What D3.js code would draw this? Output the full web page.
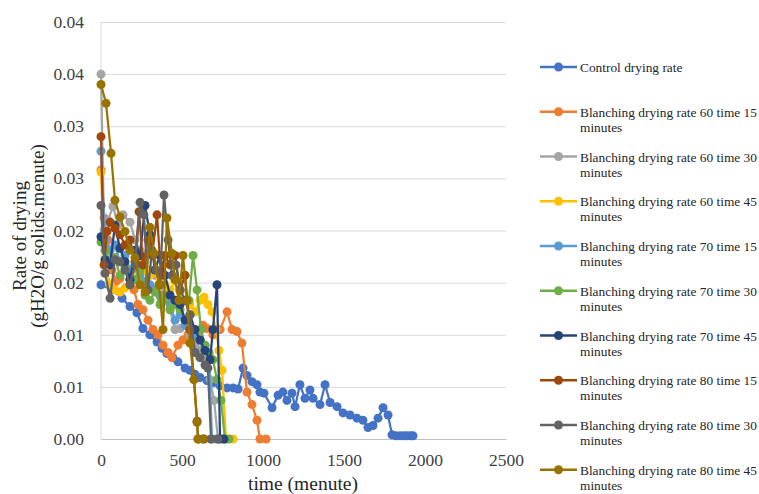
<!DOCTYPE html>
<html>
<head>
<meta charset="utf-8">
<script src="https://cdn.jsdelivr.net/npm/d3@7"></script>
<style>
  body { margin: 0; background: #fff; }
  svg text { font-family: "Liberation Serif", "Times New Roman", Tinos, "DejaVu Serif", serif; }
</style>
</head>
<body>
<div id="chart"></div>
<script>
// drying rate data (time in minutes, rate in gH2O/g solids.minute)
var ctrlTime = [0, 68, 130, 179, 222, 259, 302, 346, 377, 407, 444, 475, 519, 549, 580, 611, 654, 691, 735, 778, 815, 846, 877, 901, 932, 963, 981, 1006, 1056, 1093, 1123, 1148, 1179, 1198, 1228, 1259, 1290, 1309, 1352, 1383, 1414, 1457, 1494, 1537, 1580, 1617, 1648, 1679, 1710, 1741, 1772, 1796, 1820, 1846, 1870, 1889, 1910, 1926];
var ctrlRate = [0.0148, 0.0143, 0.0135, 0.0127, 0.0121, 0.0106, 0.0100, 0.0093, 0.0087, 0.0082, 0.0078, 0.0074, 0.0068, 0.0066, 0.0062, 0.0059, 0.0056, 0.0054, 0.0051, 0.0049, 0.0049, 0.0048, 0.0068, 0.0061, 0.0055, 0.0052, 0.0045, 0.0044, 0.0030, 0.0042, 0.0045, 0.0037, 0.0044, 0.0031, 0.0052, 0.0039, 0.0047, 0.0039, 0.0033, 0.0052, 0.0035, 0.0031, 0.0025, 0.0023, 0.0020, 0.0018, 0.0011, 0.0013, 0.0020, 0.0030, 0.0023, 0.0004, 0.0003, 0.0003, 0.0003, 0.0003, 0.0003, 0.0003];

var b60t15Time = [0, 19, 43, 68, 93, 117, 148, 179, 204, 228, 259, 290, 321, 352, 383, 414, 438, 475, 506, 537, 568, 599, 630, 654, 691, 735, 778, 809, 840, 870, 901, 932, 963, 981, 1019];
var b60t15Rate = [0.0258, 0.0212, 0.0191, 0.0162, 0.0151, 0.0154, 0.0167, 0.0153, 0.0143, 0.0129, 0.0124, 0.0114, 0.0105, 0.0100, 0.0090, 0.0083, 0.0078, 0.0090, 0.0095, 0.0100, 0.0095, 0.0103, 0.0109, 0.0106, 0.0100, 0.0105, 0.0122, 0.0105, 0.0103, 0.0092, 0.0045, 0.0033, 0.0018, 0, 0];

var b60t30Time = [0, 19, 43, 74, 105, 136, 179, 210, 241, 272, 302, 333, 364, 395, 426, 457, 488, 519, 549, 580, 611, 642, 673, 698, 722, 759];
var b60t30Rate = [0.0350, 0.0200, 0.0210, 0.0223, 0.0205, 0.0215, 0.0208, 0.0191, 0.0181, 0.0170, 0.0162, 0.0157, 0.0148, 0.0138, 0.0124, 0.0105, 0.0106, 0.0109, 0.0100, 0.0090, 0.0085, 0.0078, 0.0057, 0.0037, 0, 0];

var b60t45Time = [0, 25, 56, 86, 117, 148, 179, 210, 241, 272, 302, 333, 364, 395, 426, 457, 488, 519, 549, 580, 611, 636, 660, 685, 710, 728, 747, 772, 815];
var b60t45Rate = [0.0256, 0.0170, 0.0148, 0.0143, 0.0141, 0.0145, 0.0153, 0.0162, 0.0170, 0.0162, 0.0157, 0.0160, 0.0153, 0.0148, 0.0143, 0.0151, 0.0141, 0.0133, 0.0129, 0.0122, 0.0133, 0.0136, 0.0129, 0.0122, 0.0105, 0.0085, 0.0066, 0, 0];

var b70t15Time = [0, 25, 56, 86, 117, 148, 179, 210, 241, 272, 302, 333, 364, 395, 426, 457, 488, 519, 549, 580, 611, 642, 667, 685, 710];
var b70t15Rate = [0.0276, 0.0191, 0.0181, 0.0186, 0.0170, 0.0176, 0.0162, 0.0164, 0.0157, 0.0151, 0.0148, 0.0143, 0.0138, 0.0133, 0.0129, 0.0114, 0.0119, 0.0109, 0.0105, 0.0100, 0.0095, 0.0090, 0.0083, 0, 0];

var b70t30Time = [0, 25, 56, 86, 117, 148, 179, 210, 241, 272, 302, 333, 364, 395, 426, 457, 488, 519, 543, 568, 593, 617, 642, 667, 691, 716, 741, 765, 790];
var b70t30Rate = [0.0189, 0.0181, 0.0170, 0.0174, 0.0157, 0.0164, 0.0148, 0.0153, 0.0162, 0.0138, 0.0133, 0.0141, 0.0129, 0.0138, 0.0124, 0.0129, 0.0124, 0.0133, 0.0133, 0.0176, 0.0143, 0.0105, 0.0090, 0.0081, 0.0076, 0.0057, 0.0037, 0, 0];

var b70t45Time = [0, 25, 56, 86, 117, 148, 179, 210, 241, 272, 302, 333, 364, 395, 426, 457, 488, 519, 549, 580, 611, 642, 673, 691, 716, 735, 759];
var b70t45Rate = [0.0194, 0.0172, 0.0167, 0.0205, 0.0183, 0.0170, 0.0153, 0.0181, 0.0176, 0.0224, 0.0196, 0.0162, 0.0176, 0.0157, 0.0138, 0.0133, 0.0129, 0.0114, 0.0119, 0.0105, 0.0095, 0.0085, 0.0076, 0.0105, 0.0148, 0, 0];

var b80t15Time = [0, 19, 37, 56, 86, 117, 148, 179, 210, 235, 259, 290, 315, 346, 370, 395, 426, 457, 488, 519, 549, 574, 593, 599, 636];
var b80t15Rate = [0.0290, 0.0167, 0.0199, 0.0208, 0.0202, 0.0196, 0.0186, 0.0191, 0.0170, 0.0218, 0.0167, 0.0191, 0.0176, 0.0215, 0.0157, 0.0176, 0.0167, 0.0176, 0.0143, 0.0157, 0.0105, 0.0057, 0.0017, 0, 0];

var b80t30Time = [0, 25, 56, 86, 117, 148, 179, 210, 241, 265, 290, 315, 340, 364, 389, 414, 438, 463, 488, 519, 549, 580, 611, 642, 660, 679, 722];
var b80t30Rate = [0.0224, 0.0159, 0.0135, 0.0172, 0.0170, 0.0162, 0.0148, 0.0167, 0.0227, 0.0215, 0.0143, 0.0181, 0.0162, 0.0148, 0.0234, 0.0191, 0.0157, 0.0167, 0.0143, 0.0133, 0.0119, 0.0083, 0.0078, 0.0071, 0.0068, 0, 0];

var b80t45Time = [0, 31, 62, 86, 117, 148, 179, 210, 241, 272, 302, 327, 358, 383, 407, 438, 457, 481, 506, 531, 549, 574, 593, 599, 630];
var b80t45Rate = [0.0340, 0.0322, 0.0274, 0.0229, 0.0213, 0.0199, 0.0181, 0.0174, 0.0148, 0.0141, 0.0203, 0.0178, 0.0148, 0.0105, 0.0212, 0.0178, 0.0153, 0.0133, 0.0176, 0.0133, 0.0092, 0.0057, 0.0016, 0, 0];

var seriesNames = [
    "Control drying rate",
    "Blanching drying rate 60 time 15 minutes",
    "Blanching drying rate 60 time 30 minutes",
    "Blanching drying rate 60 time 45 minutes",
    "Blanching drying rate 70 time 15 minutes",
    "Blanching drying rate 70 time 30 minutes",
    "Blanching drying rate 70 time 45 minutes",
    "Blanching drying rate 80 time 15 minutes",
    "Blanching drying rate 80 time 30 minutes",
    "Blanching drying rate 80 time 45 minutes"
];
var seriesTimes = [ctrlTime, b60t15Time, b60t30Time, b60t45Time, b70t15Time, b70t30Time, b70t45Time, b80t15Time, b80t30Time, b80t45Time];
var seriesRates = [ctrlRate, b60t15Rate, b60t30Rate, b60t45Rate, b70t15Rate, b70t30Rate, b70t45Rate, b80t15Rate, b80t30Rate, b80t45Rate];

var xTicks = [0, 500, 1000, 1500, 2000, 2500];
var yTicks = [0, 0.005, 0.01, 0.015, 0.02, 0.025, 0.03, 0.035, 0.04];
var yTickLabels = ["0.00", "0.01", "0.01", "0.02", "0.02", "0.03", "0.03", "0.04", "0.04"];

var colors = ["#4472c4", "#ed7d31", "#a5a5a5", "#ffc000", "#5b9bd5", "#70ad47", "#264478", "#9e480e", "#636363", "#997300"];

var series = seriesNames.map(function(name, i) {
    return {
        name: name,
        values: seriesTimes[i].map(function(t, j) { return {t: t, v: seriesRates[i][j]}; })
    };
});

var serif = "'Liberation Serif', 'Times New Roman', Tinos, 'DejaVu Serif', serif";

var svg = d3.select("#chart")
    .append("svg")
    .attr("width", 759)
    .attr("height", 494)
    .attr("font-family", serif);

var margin = {top: 22, left: 101};
var width = 405, height = 417;

var g = svg.append("g")
    .attr("transform", "translate(" + margin.left + "," + margin.top + ")");

var x = d3.scaleLinear().domain([0, 2500]).range([0, width]);
var y = d3.scaleLinear().domain([0, 0.04]).range([height, 0]);

// gridlines
g.append("g")
    .call(d3.axisLeft(y).tickValues(yTicks).tickSize(-width).tickFormat(""))
    .call(function(s) {
        s.select(".domain").remove();
        s.selectAll("line").attr("stroke", "#d9d9d9").attr("stroke-width", 1);
    });

// left axis line
g.append("line")
    .attr("x1", 0).attr("x2", 0)
    .attr("y1", 0).attr("y2", height)
    .attr("stroke", "#d9d9d9");

// y labels
g.append("g")
    .call(d3.axisLeft(y).tickValues(yTicks).tickSize(0).tickPadding(17)
        .tickFormat(function(d, i) { return yTickLabels[i]; }))
    .attr("font-family", serif)
    .attr("font-size", 17.5)
    .call(function(s) {
        s.select(".domain").remove();
        s.selectAll("text").attr("fill", "#404040");
    });

// x axis
g.append("g")
    .attr("transform", "translate(0," + height + ")")
    .call(d3.axisBottom(x).tickValues(xTicks).tickSize(0).tickPadding(15).tickFormat(d3.format("d")))
    .attr("font-family", serif)
    .attr("font-size", 17.5)
    .call(function(s) {
        s.select(".domain").attr("stroke", "#bfbfbf");
        s.selectAll("text").attr("fill", "#404040");
    });

// series
var line = d3.line()
    .x(function(d) { return x(d.t); })
    .y(function(d) { return y(d.v); });

series.forEach(function(s, i) {
    g.append("path")
        .datum(s.values)
        .attr("fill", "none")
        .attr("stroke", colors[i])
        .attr("stroke-width", 2.25)
        .attr("stroke-linejoin", "round")
        .attr("d", line);

    g.append("g")
        .selectAll("circle")
        .data(s.values)
        .enter().append("circle")
        .attr("cx", function(d) { return x(d.t); })
        .attr("cy", function(d) { return y(d.v); })
        .attr("r", 4.5)
        .attr("fill", colors[i]);
});

// axis titles
svg.append("text")
    .attr("x", 303)
    .attr("y", 490)
    .attr("text-anchor", "middle")
    .attr("font-size", 19.5)
    .attr("fill", "#262626")
    .text("time (menute)");

var yTitle = svg.append("text")
    .attr("transform", "translate(26,236) rotate(-90)")
    .attr("text-anchor", "middle")
    .attr("font-size", 19)
    .attr("fill", "#262626");
yTitle.append("tspan").attr("x", 0).attr("dy", 0).text("Rate of drying");
yTitle.append("tspan").attr("x", 0).attr("dy", 18).text("(gH2O/g solids.menute)");

// legend - shrink the font so the long label ends at the right edge, as in the picture
var legendG = svg.append("g")
    .attr("font-size", 15)
    .attr("fill", "#262626");

var probe = legendG.append("text").text(seriesNames[1].replace(" minutes", ""));
var probeLen = probe.node().getComputedTextLength();
probe.remove();
var legendFont = Math.min(16, 15 * 177 / probeLen);
legendG.attr("font-size", legendFont);

var legend = legendG.selectAll("g")
    .data(series)
    .enter().append("g")
    .attr("transform", function(d, i) { return "translate(540," + (67 + i * 44.75) + ")"; });

legend.append("line")
    .attr("x1", 0).attr("x2", 37)
    .attr("stroke", function(d, i) { return colors[i]; })
    .attr("stroke-width", 2.5);

legend.append("circle")
    .attr("cx", 18.5)
    .attr("r", 4.5)
    .attr("fill", function(d, i) { return colors[i]; });

legend.append("text")
    .attr("x", 40)
    .attr("y", 5)
    .each(function(d) {
        var t = d3.select(this);
        var parts = d.name.split(" minutes");
        if (parts.length > 1) {
            t.append("tspan").attr("x", 40).text(parts[0]);
            t.append("tspan").attr("x", 40).attr("dy", 15).text("minutes");
        } else {
            t.text(d.name);
        }
    });
</script>
</body>
</html>
